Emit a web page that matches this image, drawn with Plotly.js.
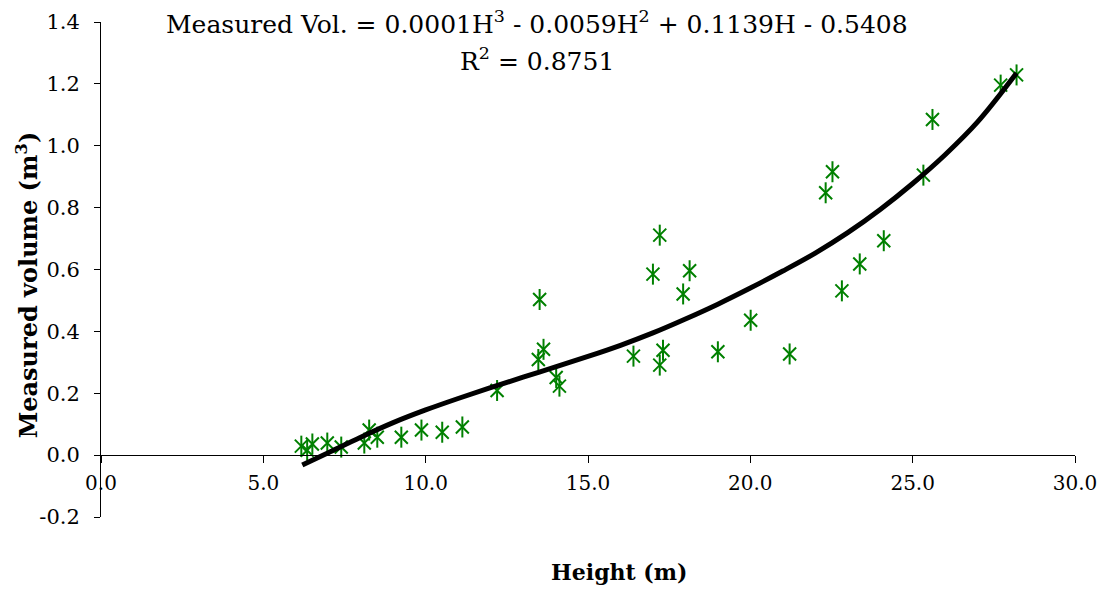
<!DOCTYPE html>
<html>
<head>
<meta charset="utf-8">
<script src="https://cdn.plot.ly/plotly-3.0.1.min.js"></script>
<style>html,body{margin:0;padding:0;background:#fff;}#chart{width:1109px;height:592px;}</style>
</head>
<body>
<div id="chart"></div>
<script>
// Measured points: tree height (m) and measured volume (m3)
const heights = [6.17, 6.35, 6.51, 6.97, 7.40, 8.11, 8.26, 8.51, 9.25, 9.87, 10.51, 11.13,
  12.20, 13.51, 13.63, 13.47, 14.02, 14.12, 16.40, 17.31, 17.21, 17.00, 17.21, 17.93, 18.13,
  19.00, 20.01, 21.21, 22.32, 22.53, 22.82, 23.37, 24.11, 25.33, 25.61, 27.71, 28.20];
const volumes = [0.029, 0.016, 0.036, 0.039, 0.026, 0.039, 0.081, 0.058, 0.058, 0.081, 0.074, 0.091,
  0.209, 0.503, 0.342, 0.309, 0.251, 0.223, 0.320, 0.339, 0.291, 0.585, 0.711, 0.521, 0.596,
  0.334, 0.436, 0.327, 0.848, 0.916, 0.531, 0.618, 0.693, 0.905, 1.085, 1.196, 1.229];

// Polynomial trendline
const trendH = [6.2, 7, 8, 9, 10, 11, 12, 13, 14, 15, 16, 17, 18, 19, 20, 21, 22, 23, 24, 25, 26, 27, 28.2];
const trendV = [-0.032, 0.008, 0.058, 0.105, 0.146, 0.183, 0.218, 0.252, 0.285, 0.319, 0.355, 0.395,
  0.440, 0.488, 0.540, 0.595, 0.653, 0.719, 0.794, 0.878, 0.971, 1.077, 1.235];

const xTickVals = [0, 5, 10, 15, 20, 25, 30];
const xTickText = ['0.0', '5.0', '10.0', '15.0', '20.0', '25.0', '30.0'];
const yTickVals = [-0.2, 0, 0.2, 0.4, 0.6, 0.8, 1.0, 1.2, 1.4];
const yTickText = ['-0.2', '0.0', '0.2', '0.4', '0.6', '0.8', '1.0', '1.2', '1.4'];

const equationText = 'Measured Vol. = 0.0001H<sup>3</sup> - 0.0059H<sup>2</sup> + 0.1139H - 0.5408';
const r2Text = 'R<sup>2</sup> = 0.8751';
const xTitle = '<b>Height (m)</b>';
const yTitle = '<b>Measured volume (m<sup>3</sup>)</b>';

const serif = 'DejaVu Serif';
const green = '#008000';

const traces = [
  {x: heights, y: volumes, type: 'scatter', mode: 'markers',
   marker: {symbol: 'x-thin-open', size: 13, color: green, line: {color: green, width: 2}},
   hoverinfo: 'x+y', showlegend: false},
  {x: heights, y: volumes, type: 'scatter', mode: 'markers',
   marker: {symbol: 'line-ns-open', size: 15, color: green, line: {color: green, width: 2}},
   hoverinfo: 'skip', showlegend: false},
  {x: trendH, y: trendV, type: 'scatter', mode: 'lines',
   line: {color: '#000', width: 5, shape: 'spline', smoothing: 1}, hoverinfo: 'skip', showlegend: false}
];

const layout = {
  width: 1109, height: 592,
  margin: {l: 101, r: 34, t: 22, b: 75},
  paper_bgcolor: '#fff', plot_bgcolor: '#fff',
  font: {family: serif, size: 21, color: '#000'},
  xaxis: {
    range: [0, 30], tickvals: xTickVals, ticktext: xTickText,
    anchor: 'free', position: 0.125,
    showline: true, linecolor: '#000', linewidth: 1,
    ticks: 'outside', ticklen: 7, tickcolor: '#000', tickwidth: 1,
    ticklabelstandoff: 3,
    showgrid: false, zeroline: false,
    tickfont: {family: serif, size: 20, color: '#000'}
  },
  yaxis: {
    range: [-0.2, 1.4], tickvals: yTickVals, ticktext: yTickText,
    showline: true, linecolor: '#000', linewidth: 1,
    ticks: 'outside', ticklen: 6, tickcolor: '#000', tickwidth: 1,
    ticklabelstandoff: 10,
    showgrid: false, zeroline: false,
    tickfont: {family: serif, size: 21, color: '#000'}
  },
  annotations: [
    {text: equationText, xref: 'paper', yref: 'paper', x: 0.448, y: 1.0, xanchor: 'center', yanchor: 'middle',
     showarrow: false, font: {family: serif, size: 25, color: '#000'}},
    {text: r2Text, xref: 'paper', yref: 'paper', x: 0.448, y: 0.925, xanchor: 'center', yanchor: 'middle',
     showarrow: false, font: {family: serif, size: 25, color: '#000'}},
    {text: xTitle, xref: 'paper', yref: 'paper', x: 0.532, y: -0.112, xanchor: 'center', yanchor: 'middle',
     showarrow: false, font: {family: serif, size: 22, color: '#000'}},
    {text: yTitle, xref: 'paper', yref: 'paper', x: -0.076, y: 0.47, xanchor: 'center', yanchor: 'middle',
     textangle: -90, showarrow: false, font: {family: serif, size: 24, color: '#000'}}
  ]
};

Plotly.newPlot('chart', traces, layout, {displayModeBar: false, staticPlot: true});
</script>
</body>
</html>
